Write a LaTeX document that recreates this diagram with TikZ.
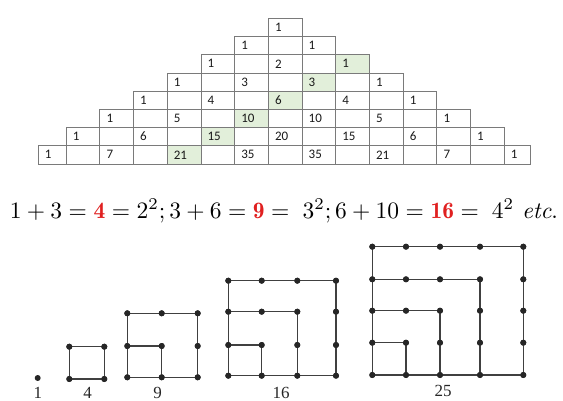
\documentclass[tikz,border=0pt]{standalone}
\usepackage{fontspec}
\usepackage{graphicx}
\newfontfamily\tabfont{Carlito}
\newfontfamily\labfont{Liberation Serif}
\definecolor{cellgreen}{HTML}{E2EFDA}
\definecolor{gridgray}{HTML}{7A7A7A}
\definecolor{eqred}{HTML}{E02020}
\tikzset{
  cellline/.style={draw=gridgray, line width=0.7pt},
  greencell/.style={fill=cellgreen},
  num/.style={anchor=west, inner sep=0pt, font=\tabfont\fontsize{13}{14}\selectfont, text=black!90},
  dot/.style={circle, fill=black!85, inner sep=0pt, minimum size=6pt},
  figline/.style={draw=black!75, line width=1.1pt},
  lab/.style={anchor=base, inner sep=0pt, font=\labfont\fontsize{17}{18}\selectfont, text=black!85}
}
\newcommand\cellW{33.7}
\newcommand\cellH{18.2}
\newcommand\tabrow[2]{%
  \foreach \v [count=\j from 0] in {#2} {%
    \pgfmathsetmacro\o{-(#1-1)+2*\j}%
    \pgfmathsetmacro\xl{max(268.3+\o*\cellW,38.3)}%
    \pgfmathsetmacro\ym{18.3+(#1-1)*\cellH+\cellH/2}%
    \node[num] (c#1-\j) at (\xl+6.5,\ym) {\v};
  }%
}
\begin{document}
\begin{tikzpicture}[x=1pt,y=-1pt]
\useasboundingbox (0,0) rectangle (563,401);
% green diagonal
\foreach \k/\o in {3/2,4/1,5/0,6/-1,7/-2,8/-3} {
  \pgfmathsetmacro\xl{268.3+\o*\cellW}
  \pgfmathsetmacro\yt{18.3+(\k-1)*\cellH}
  \fill[greencell] (\xl,\yt) rectangle ++(\cellW,\cellH);
}
% grid cells
\foreach \k in {1,...,8} {
  \pgfmathtruncatemacro\m{2*\k-1}
  \foreach \i in {1,...,\m} {
    \pgfmathsetmacro\o{\i-\k}
    \pgfmathsetmacro\xl{max(268.3+\o*\cellW,38.3)}
    \pgfmathsetmacro\xr{min(268.3+(\o+1)*\cellW,530)}
    \pgfmathsetmacro\yt{18.3+(\k-1)*\cellH}
    \draw[cellline] (\xl,\yt) rectangle (\xr,\yt+\cellH);
  }
}
% numbers
\tabrow{1}{1}
\tabrow{2}{1,1}
\tabrow{3}{1,2,1}
\tabrow{4}{1,3,3,1}
\tabrow{5}{1,4,6,4,1}
\tabrow{6}{1,5,10,10,5,1}
\tabrow{7}{1,6,15,20,15,6,1}
\tabrow{8}{1,7,21,35,35,21,7,1}
% equation
\node[inner sep=0pt] (eq) at (284,211) {\resizebox{548pt}{!}{$1+3=\textcolor{eqred}{\mathbf{4}}=2^2;3+6=\textcolor{eqred}{\mathbf{9}}=\;3^2;6+10=\textcolor{eqred}{\mathbf{16}}=\;4^2\ \mathit{etc.}$}};
% figure 1
\node[dot] (f11) at (37.7,378) {};
% figure 4
\foreach \x [count=\i] in {69.3,104.3} \foreach \y [count=\j] in {346.7,379} \node[dot] (a\i\j) at (\x,\y) {};
\draw[figline] (a11.center) -- (a21.center) -- (a22.center) -- (a12.center) -- cycle;
% figure 9
\foreach \x [count=\i] in {127.3,161.7,197.7} \foreach \y [count=\j] in {313.3,346,377.3} \node[dot] (b\i\j) at (\x,\y) {};
\draw[figline] (b11.center) -- (b31.center) -- (b33.center) -- (b13.center) -- cycle;
\draw[figline] (b12.center) -- (b22.center) -- (b23.center);
% figure 16
\foreach \x [count=\i] in {228.3,261.7,297.3,336} \foreach \y [count=\j] in {280.7,311.7,345,375.7} \node[dot] (c\i\j) at (\x,\y) {};
\draw[figline] (c11.center) -- (c41.center) -- (c44.center) -- (c14.center) -- cycle;
\draw[figline] (c12.center) -- (c32.center) -- (c34.center);
\draw[figline] (c13.center) -- (c23.center) -- (c24.center);
% figure 25
\foreach \x [count=\i] in {372.3,406,440,480,523.3} \foreach \y [count=\j] in {246.7,279.3,310.7,342.7,375} \node[dot] (e\i\j) at (\x,\y) {};
\draw[figline] (e11.center) -- (e51.center) -- (e55.center) -- (e15.center) -- cycle;
\draw[figline] (e12.center) -- (e42.center) -- (e45.center);
\draw[figline] (e13.center) -- (e33.center) -- (e35.center);
\draw[figline] (e14.center) -- (e24.center) -- (e25.center);
% redraw dots on top of lines
\foreach \n in {a11,a21,a12,a22,b11,b21,b31,b12,b22,b32,b13,b23,b33} \fill[black!85] (\n.center) circle (3pt);
\foreach \i in {1,...,4} \foreach \j in {1,...,4} \fill[black!85] (c\i\j.center) circle (3pt);
\foreach \i in {1,...,5} \foreach \j in {1,...,5} \fill[black!85] (e\i\j.center) circle (3pt);
% labels
\node[lab] (l1) at (38,398) {1};
\node[lab] (l4) at (87.7,398.3) {4};
\node[lab] (l9) at (157.7,398.3) {9};
\node[lab] (l16) at (281,398.3) {16};
\node[lab] (l25) at (443,396.7) {25};
\end{tikzpicture}
\end{document}
